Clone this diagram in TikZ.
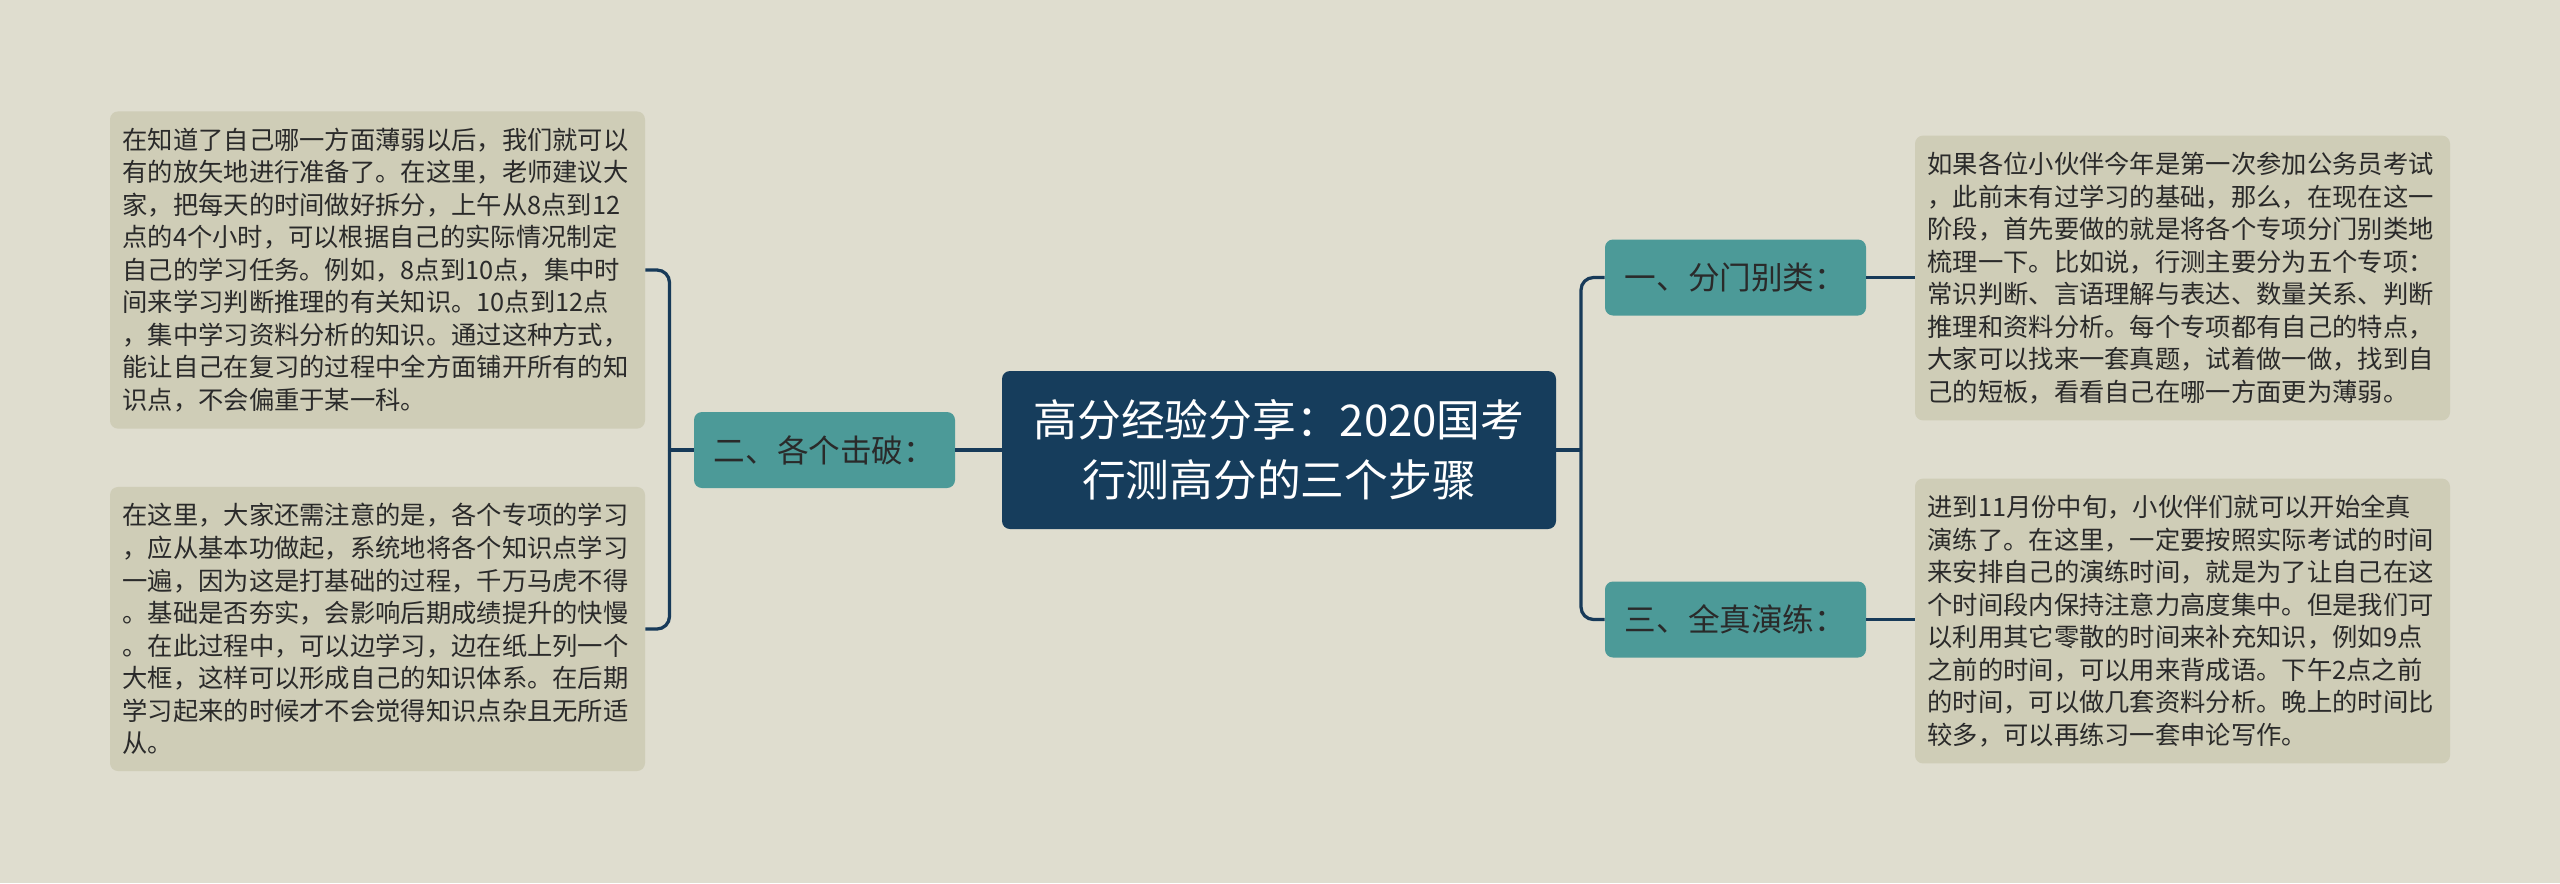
\documentclass[tikz,border=0pt]{standalone}
\usepackage{fontspec}
\setmainfont{Noto Sans CJK SC}
\usetikzlibrary{calc}
\definecolor{bgcol}{HTML}{DFDDCF}
\definecolor{notecol}{HTML}{CFCDB7}
\definecolor{rootcol}{HTML}{163D5C}
\definecolor{branchcol}{HTML}{4C9A98}
\definecolor{linkcol}{HTML}{173A59}
\definecolor{inkcol}{HTML}{2A2A2A}
\tikzset{
	root/.style={fill=rootcol, text=white, rounded corners=0.16cm, minimum width=11.08cm, minimum height=3.16cm, align=center, font=\fontsize{24.9pt}{34pt}\selectfont},
	branch/.style={fill=branchcol, text=inkcol, rounded corners=0.16cm, minimum width=5.22cm, minimum height=1.52cm, font=\fontsize{18pt}{20pt}\selectfont},
	note/.style={fill=notecol, text=inkcol, rounded corners=0.16cm, text width=10.2cm, inner xsep=0.25cm, inner ysep=0.33cm, align=left, font=\fontsize{14.4pt}{18.5pt}\selectfont},
	link/.style={draw=linkcol, line width=0.065cm, rounded corners=0.25cm}
}

\begin{document}
\begin{tikzpicture}
			%%%%% START %%%%%
			
			\fill[bgcol] (0, 0) rectangle (51.2, -17.66);
			\useasboundingbox (0, 0) rectangle (51.2, -17.66);
			
			\node[root] (root) at (25.58, -9.0) {高分经验分享：2020国考\\行测高分的三个步骤};
			
			\node[branch] (fenmen) at (34.71, -5.55) {一、分门别类：};
			\node[branch] (quanzhen) at (34.71, -12.39) {三、全真演练：};
			\node[branch] (gege) at (16.49, -9.0) {二、各个击破：};
			
			\node[note] (note1) at (7.55, -5.4) {在知道了自己哪一方面薄弱以后，我们就可以\\有的放矢地进行准备了。在这里，老师建议大\\家，把每天的时间做好拆分，上午从8点到12\\点的4个小时，可以根据自己的实际情况制定\\自己的学习任务。例如，8点到10点，集中时\\间来学习判断推理的有关知识。10点到12点\\，集中学习资料分析的知识。通过这种方式，\\能让自己在复习的过程中全方面铺开所有的知\\识点，不会偏重于某一科。};
			\node[note] (note2) at (7.55, -12.58) {在这里，大家还需注意的是，各个专项的学习\\，应从基本功做起，系统地将各个知识点学习\\一遍，因为这是打基础的过程，千万马虎不得\\。基础是否夯实，会影响后期成绩提升的快慢\\。在此过程中，可以边学习，边在纸上列一个\\大框，这样可以形成自己的知识体系。在后期\\学习起来的时候才不会觉得知识点杂且无所适\\从。};
			\node[note] (note3) at (43.65, -5.56) {如果各位小伙伴今年是第一次参加公务员考试\\，此前末有过学习的基础，那么，在现在这一\\阶段，首先要做的就是将各个专项分门别类地\\梳理一下。比如说，行测主要分为五个专项：\\常识判断、言语理解与表达、数量关系、判断\\推理和资料分析。每个专项都有自己的特点，\\大家可以找来一套真题，试着做一做，找到自\\己的短板，看看自己在哪一方面更为薄弱。};
			\node[note] (note4) at (43.65, -12.42) {进到11月份中旬，小伙伴们就可以开始全真\\演练了。在这里，一定要按照实际考试的时间\\来安排自己的演练时间，就是为了让自己在这\\个时间段内保持注意力高度集中。但是我们可\\以利用其它零散的时间来补充知识，例如9点\\之前的时间，可以用来背成语。下午2点之前\\的时间，可以做几套资料分析。晚上的时间比\\较多，可以再练习一套申论写作。};
			
			\coordinate (rfork) at (31.62, -9.0);
			\coordinate (lfork) at (13.39, -9.0);
			
			\draw[link] (root.east) -- (rfork);
			\draw[link] (rfork) |- (fenmen.west);
			\draw[link] (rfork) |- (quanzhen.west);
			\draw[link] (fenmen.east) -- (note3.west |- fenmen.east);
			\draw[link] (quanzhen.east) -- (note4.west |- quanzhen.east);
			
			\draw[link] (root.west) -- (gege.east);
			\draw[link] (gege.west) -- (lfork);
			\draw[link] (lfork) |- (note1.east);
			\draw[link] (lfork) |- (note2.east);
			
			%%%%% END %%%%%
\end{tikzpicture}
\end{document}
